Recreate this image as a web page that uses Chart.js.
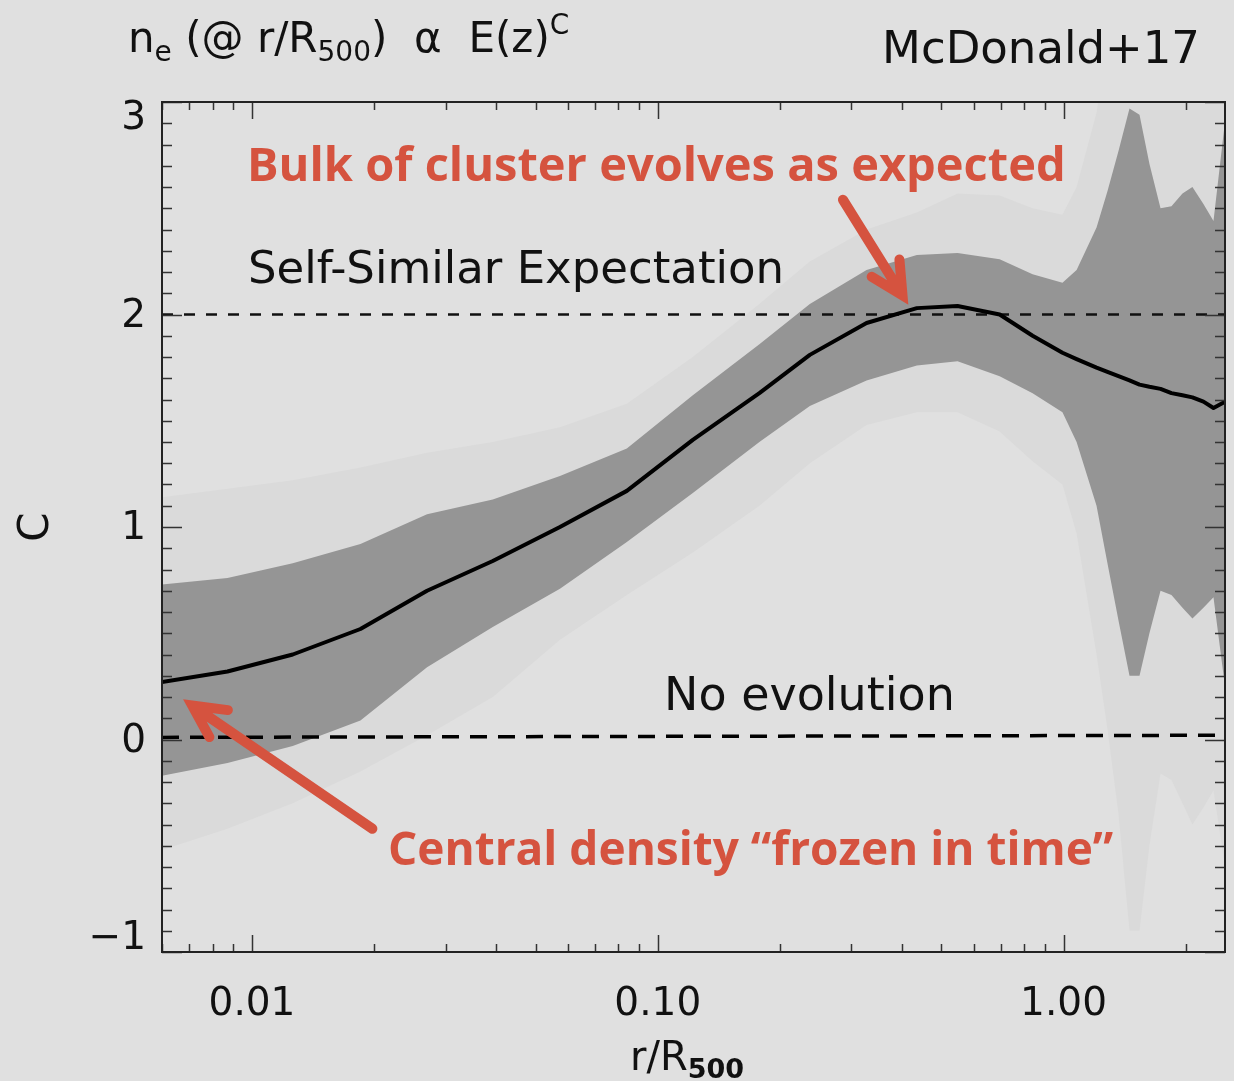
<!DOCTYPE html>
<html>
<head>
<meta charset="utf-8">
<title>Density evolution with redshift</title>
<script src="https://cdn.jsdelivr.net/npm/chart.js@4.4.1/dist/chart.umd.min.js"></script>
<style>
  html, body { margin: 0; padding: 0; background: #e0e0e0; }
  canvas { display: block; }
</style>
</head>
<body>
<canvas id="chart" width="1234" height="1081"></canvas>
<script>
// radius in units of R500
const radii = [0.0060, 0.0087, 0.0126, 0.0185, 0.0270, 0.0392, 0.0574, 0.0839, 0.122, 0.178,
               0.237, 0.327, 0.435, 0.548, 0.696, 0.839, 0.994, 1.077, 1.206, 1.283,
               1.366, 1.454, 1.539, 1.628, 1.734, 1.845, 1.964, 2.078, 2.212, 2.342, 2.5];

// best-fit slope C of n_e ∝ E(z)^C
const meanC   = [0.27, 0.32, 0.40, 0.52, 0.70, 0.84, 1.00, 1.17, 1.41, 1.63,
                 1.81, 1.96, 2.03, 2.04, 2.00, 1.90, 1.82, 1.79, 1.75, 1.73,
                 1.71, 1.69, 1.67, 1.66, 1.65, 1.63, 1.62, 1.61, 1.59, 1.56, 1.59];
// 1-sigma band
const innerHi = [0.73, 0.76, 0.83, 0.92, 1.06, 1.13, 1.24, 1.37, 1.62, 1.86,
                 2.05, 2.21, 2.28, 2.29, 2.26, 2.19, 2.15, 2.21, 2.41, 2.58,
                 2.77, 2.97, 2.94, 2.71, 2.50, 2.51, 2.57, 2.60, 2.52, 2.44, 2.91];
const innerLo = [-0.17, -0.11, -0.03, 0.09, 0.34, 0.53, 0.71, 0.93, 1.16, 1.40,
                 1.57, 1.69, 1.76, 1.78, 1.71, 1.63, 1.54, 1.40, 1.10, 0.83,
                 0.56, 0.30, 0.30, 0.50, 0.70, 0.68, 0.62, 0.57, 0.62, 0.67, 0.25];
// 2-sigma band
const outerHi = [1.14, 1.18, 1.22, 1.28, 1.35, 1.40, 1.47, 1.58, 1.80, 2.05,
                 2.25, 2.40, 2.48, 2.57, 2.56, 2.50, 2.47, 2.60, 2.95, 3.30,
                 3.50, 3.50, 3.50, 3.50, 3.50, 3.50, 3.50, 3.50, 3.50, 3.50, 3.50];
const outerLo = [-0.52, -0.42, -0.30, -0.15, 0.02, 0.20, 0.47, 0.68, 0.88, 1.10,
                 1.30, 1.48, 1.54, 1.54, 1.45, 1.31, 1.20, 0.97, 0.40, 0.05,
                 -0.35, -0.90, -0.90, -0.50, -0.16, -0.19, -0.30, -0.40, -0.32, -0.24, -0.60];

// reference lines
const refX = [0.006, 2.5];
const selfSimilar = [2, 2];
const noEvolution = [0.01, 0.02];

const xTickValues = [0.01, 0.1, 1];
const xTickLabels = ['0.01', '0.10', '1.00'];
const yTickValues = [-1, 0, 1, 2, 3];
const yTickLabels = ['\u22121', '0', '1', '2', '3'];

const RED = '#d5533f';
const FONT = '"DejaVu Sans", sans-serif';
const BOLD = '"Open Sans", sans-serif';

function pts(xs, ys) {
    return xs.map((x, i) => ({ x: x, y: ys[i] }));
}

// draws consecutive text pieces (for sub/superscripts)
function drawRuns(ctx, x, y, runs) {
    runs.forEach(r => {
        ctx.font = r.font;
        ctx.fillText(r.text, x, y + (r.dy || 0));
        x += ctx.measureText(r.text).width;
    });
}

function drawArrow(ctx, x0, y0, x1, y1) {
    const ang = Math.atan2(y0 - y1, x0 - x1);
    const head = 36, spread = 27 * Math.PI / 180;
    ctx.beginPath();
    ctx.moveTo(x0, y0);
    ctx.lineTo(x1, y1);
    ctx.moveTo(x1 + head * Math.cos(ang - spread), y1 + head * Math.sin(ang - spread));
    ctx.lineTo(x1, y1);
    ctx.lineTo(x1 + head * Math.cos(ang + spread), y1 + head * Math.sin(ang + spread));
    ctx.stroke();
}

const idlFrame = {
    id: 'idlFrame',
    beforeDraw(chart) {
        const ctx = chart.ctx;
        ctx.save();
        ctx.fillStyle = '#e0e0e0';
        ctx.fillRect(0, 0, chart.width, chart.height);
        ctx.restore();
    },
    afterDatasetsDraw(chart) {
        const ctx = chart.ctx;
        const a = chart.chartArea;
        const xs = chart.scales.x, ys = chart.scales.y;
        ctx.save();

        // inward tick marks on all four sides
        ctx.strokeStyle = '#333';
        ctx.lineWidth = 1.5;
        ctx.beginPath();
        [0.001, 0.01, 0.1, 1].forEach(dec => {
            for (let m = 1; m <= 9; m++) {
                const v = m * dec;
                if (v < xs.min || v > xs.max) continue;
                const px = Math.round(xs.getPixelForValue(v)) + 0.5;
                const len = m === 1 ? 17 : 8;
                ctx.moveTo(px, a.bottom); ctx.lineTo(px, a.bottom - len);
                ctx.moveTo(px, a.top); ctx.lineTo(px, a.top + len);
            }
        });
        for (let i = -10; i <= 30; i++) {
            const py = Math.round(ys.getPixelForValue(i / 10)) + 0.5;
            const len = i % 10 === 0 ? 20 : 10;
            ctx.moveTo(a.left, py); ctx.lineTo(a.left + len, py);
            ctx.moveTo(a.right, py); ctx.lineTo(a.right - len, py);
        }
        ctx.stroke();

        ctx.strokeStyle = '#222';
        ctx.lineWidth = 2;
        ctx.strokeRect(a.left, a.top, a.right - a.left, a.bottom - a.top);

        // tick labels
        ctx.fillStyle = '#111';
        ctx.font = '39px ' + FONT;
        ctx.textAlign = 'center';
        ctx.textBaseline = 'alphabetic';
        xTickValues.forEach((v, i) => {
            ctx.fillText(xTickLabels[i], xs.getPixelForValue(v), a.bottom + 63);
        });
        ctx.textAlign = 'right';
        ctx.textBaseline = 'middle';
        yTickValues.forEach((v, i) => {
            let py = ys.getPixelForValue(v);
            if (v === ys.max) py += 15;
            if (v === ys.min) py -= 15;
            ctx.fillText(yTickLabels[i], a.left - 16, py + 2);
        });

        // axis titles
        ctx.textAlign = 'center';
        ctx.save();
        ctx.translate(37, (a.top + a.bottom) / 2);
        ctx.rotate(-Math.PI / 2);
        ctx.font = '42px ' + FONT;
        ctx.fillText('C', 0, 0);
        ctx.restore();

        ctx.textAlign = 'left';
        ctx.textBaseline = 'alphabetic';
        drawRuns(ctx, 630, 1070, [
            { text: 'r/R', font: '40px ' + FONT },
            { text: '500', font: 'bold 27px ' + FONT, dy: 8 }
        ]);
        ctx.restore();
    },
    afterDraw(chart) {
        const ctx = chart.ctx;
        const xs = chart.scales.x, ys = chart.scales.y;
        ctx.save();
        ctx.textAlign = 'left';
        ctx.textBaseline = 'alphabetic';

        // header
        ctx.fillStyle = '#111';
        drawRuns(ctx, 128, 52, [
            { text: 'n', font: '42px ' + FONT },
            { text: 'e', font: '28px ' + FONT, dy: 9 },
            { text: ' (@ r/R', font: '42px ' + FONT },
            { text: '500', font: '28px ' + FONT, dy: 9 },
            { text: ')  \u03b1  E(z)', font: '42px ' + FONT },
            { text: 'C', font: '28px ' + FONT, dy: -18 }
        ]);
        ctx.font = '45px ' + FONT;
        ctx.textAlign = 'right';
        ctx.fillText('McDonald+17', 1200, 63);

        // annotations inside the plot
        ctx.textAlign = 'left';
        ctx.font = '45px ' + FONT;
        ctx.fillText('Self-Similar Expectation', 248, 283);
        ctx.font = '46px ' + FONT;
        ctx.fillText('No evolution', 664, 710);

        ctx.fillStyle = RED;
        ctx.font = 'bold 47px ' + BOLD;
        ctx.fillText('Bulk of cluster evolves as expected', 247, 181);
        ctx.font = 'bold 46px ' + BOLD;
        ctx.fillText('Central density \u201cfrozen in time\u201d', 388, 865);

        ctx.strokeStyle = RED;
        ctx.lineWidth = 10;
        ctx.lineCap = 'round';
        ctx.lineJoin = 'miter';
        drawArrow(ctx, xs.getPixelForValue(0.286), ys.getPixelForValue(2.54),
                       xs.getPixelForValue(0.401), ys.getPixelForValue(2.09));
        drawArrow(ctx, xs.getPixelForValue(0.0198), ys.getPixelForValue(-0.42),
                       xs.getPixelForValue(0.00712), ys.getPixelForValue(0.16));
        ctx.restore();
    }
};

const noMarks = { pointRadius: 0, tension: 0 };

new Chart(document.getElementById('chart'), {
    type: 'line',
    data: {
        datasets: [
            Object.assign({ label: 'C(r)', data: pts(radii, meanC), borderColor: '#000', borderWidth: 4, borderJoinStyle: 'round', fill: false }, noMarks),
            Object.assign({ label: 'Self-similar', data: pts(refX, selfSimilar), borderColor: '#111', borderWidth: 2.5, borderDash: [11, 11], fill: false }, noMarks),
            Object.assign({ label: 'No evolution', data: pts(refX, noEvolution), borderColor: '#000', borderWidth: 3.5, borderDash: [17, 11], fill: false }, noMarks),
            Object.assign({ label: '1 sigma hi', data: pts(radii, innerHi), borderColor: 'transparent', borderWidth: 0, backgroundColor: '#959595', fill: '+1' }, noMarks),
            Object.assign({ label: '1 sigma lo', data: pts(radii, innerLo), borderColor: 'transparent', borderWidth: 0, fill: false }, noMarks),
            Object.assign({ label: '2 sigma hi', data: pts(radii, outerHi), borderColor: 'transparent', borderWidth: 0, backgroundColor: '#dadada', fill: '+1' }, noMarks),
            Object.assign({ label: '2 sigma lo', data: pts(radii, outerLo), borderColor: 'transparent', borderWidth: 0, fill: false }, noMarks)
        ]
    },
    options: {
        responsive: false,
        animation: false,
        devicePixelRatio: 1,
        layout: { padding: { left: 162, top: 102, right: 9, bottom: 129 } },
        scales: {
            x: { type: 'logarithmic', min: 0.006, max: 2.5, display: false },
            y: { type: 'linear', min: -1, max: 3, display: false }
        },
        plugins: {
            legend: { display: false },
            tooltip: { enabled: false }
        }
    },
    plugins: [idlFrame]
});
</script>
</body>
</html>
